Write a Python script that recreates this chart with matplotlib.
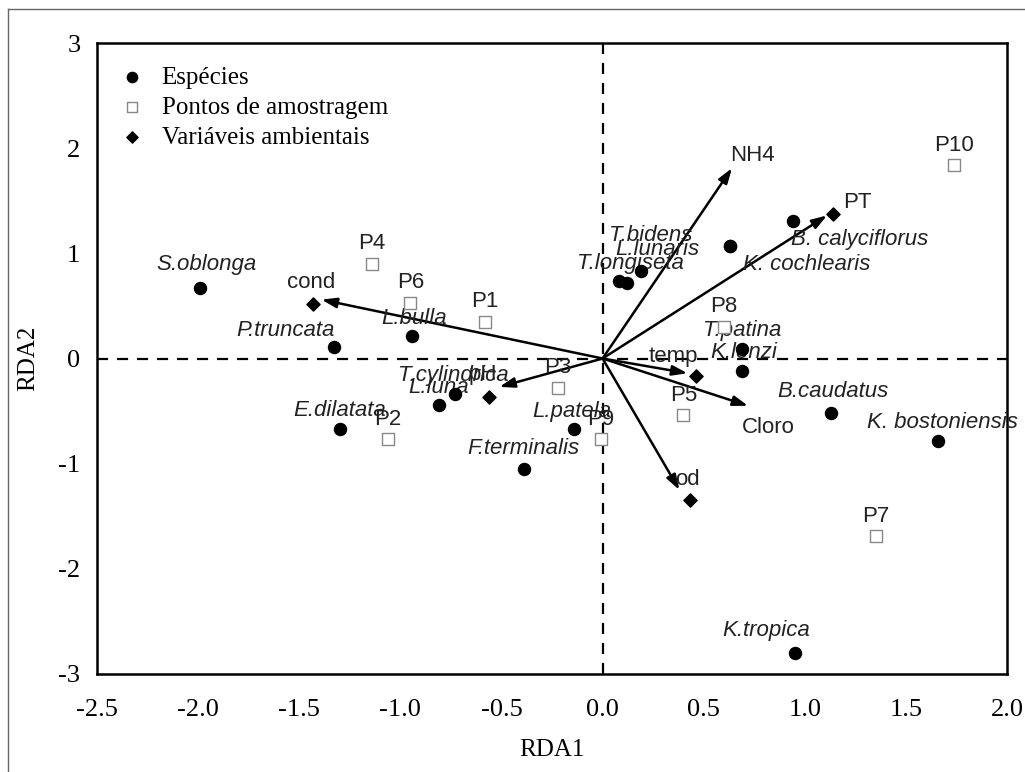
import numpy as np
import matplotlib.pyplot as plt

plt.rcParams['axes.unicode_minus'] = False

# species scores
sp_names = ['S.oblonga', 'P.truncata', 'L.bulla', 'E.dilatata', 'L.luna', 'T.cylindrica',
            'F.terminalis', 'L.patela', 'T.longiseta', 'L.lunaris', 'T.bidens', '',
            'B. calyciflorus', 'K. cochlearis', 'T.patina', 'K.lenzi', 'B.caudatus',
            'K. bostoniensis', 'K.tropica']
sp_x = [-1.99, -1.33, -0.94, -1.30, -0.81, -0.73, -0.39, -0.14, 0.08, 0.12, 0.19, 0.63,
        0.94, 0.63, 0.69, 0.69, 1.13, 1.66, 0.95]
sp_y = [0.67, 0.11, 0.21, -0.67, -0.44, -0.34, -1.05, -0.67, 0.74, 0.72, 0.83, 1.07,
        1.31, 1.07, 0.09, -0.12, -0.52, -0.78, -2.80]
# label offsets (data units)
sp_lx = [0.03, -0.24, 0.01, 0.0, 0.0, -0.01, 0.0, -0.01, 0.06, 0.15, 0.05, 0,
         0.33, 0.38, 0.0, 0.01, 0.01, 0.02, -0.14]
sp_ly = [0.22, 0.16, 0.17, 0.18, 0.16, 0.18, 0.19, 0.17, 0.16, 0.32, 0.34, 0,
         -0.18, -0.18, 0.18, 0.18, 0.21, 0.17, 0.21]

# sampling sites
site_names = ['P1', 'P2', 'P3', 'P4', 'P5', 'P6', 'P7', 'P8', 'P9', 'P10']
site_x = [-0.58, -1.06, -0.22, -1.14, 0.40, -0.95, 1.35, 0.60, -0.01, 1.74]
site_y = [0.35, -0.77, -0.28, 0.90, -0.54, 0.53, -1.69, 0.30, -0.77, 1.84]

# environmental variables
env_names = ['cond', 'pH', 'NH4', 'PT', 'temp', 'Cloro', 'od']
env_x = [-1.39, -0.51, 0.64, 1.11, 0.42, 0.72, 0.38]
env_y = [0.56, -0.27, 1.81, 1.36, -0.14, -0.45, -1.25]
dia_x = [-1.43, -0.56, np.nan, 1.14, 0.46, np.nan, 0.43]
dia_y = [0.52, -0.37, np.nan, 1.37, -0.17, np.nan, -1.35]
env_lx = [-0.05, -0.08, 0.1, 0.15, -0.07, 0.1, 0.04]
env_ly = [0.16, 0.12, 0.12, 0.12, 0.16, -0.21, 0.1]

fig = plt.figure(figsize=(10.25, 7.72), dpi=100)
ax = fig.add_axes([97/1025, 1-674/772, 910/1025, 631/772])

# outer frame lines (left and top)
fig.add_artist(plt.Line2D([8/1025, 8/1025], [0, 1-9/772], transform=fig.transFigure,
                          color='#666666', lw=1.0))
fig.add_artist(plt.Line2D([8/1025, 1], [1-9/772, 1-9/772], transform=fig.transFigure,
                          color='#666666', lw=1.0))

ax.axhline(0, color='black', ls=(0, (5, 4)), lw=1.6, zorder=1)
ax.axvline(0, color='black', ls=(0, (5, 4)), lw=1.6, zorder=1)

for i in range(len(env_names)):
    ax.annotate('', xy=(env_x[i], env_y[i]), xytext=(0, 0),
                arrowprops=dict(arrowstyle='-|>,head_length=0.9,head_width=0.3',
                                color='black', lw=1.8, shrinkA=0, shrinkB=0), zorder=3)
    ax.text(env_x[i] + env_lx[i], env_y[i] + env_ly[i], env_names[i],
            family='Liberation Sans', fontsize=16, ha='center', va='center', color='#222222')

ax.scatter(sp_x, sp_y, s=75, color='black', marker='o', zorder=4, label='Espécies')
ax.scatter(site_x, site_y, s=75, facecolor='white', edgecolor='#888888', marker='s',
           linewidths=1.0, zorder=4, label='Pontos de amostragem')
ax.scatter(dia_x, dia_y, s=45, color='black', marker='D', zorder=4,
           label='Variáveis ambientais')

for i in range(len(sp_names)):
    ax.text(sp_x[i] + sp_lx[i], sp_y[i] + sp_ly[i], sp_names[i], family='Liberation Sans',
            style='italic', fontsize=16, ha='center', va='center', color='#222222')
for i in range(len(site_names)):
    ax.text(site_x[i], site_y[i] + 0.19, site_names[i], family='Liberation Sans',
            fontsize=16, ha='center', va='center', color='#222222')

ax.set_xlim(-2.5, 2.0)
ax.set_ylim(-3, 3)
ax.set_xticks(np.arange(-2.5, 2.01, 0.5))
ax.set_xticklabels(['%.1f' % v for v in np.arange(-2.5, 2.01, 0.5)])
ax.set_yticks(np.arange(-3, 4, 1))
ax.tick_params(length=0, labelsize=19)
ax.tick_params(axis='x', pad=18)
ax.tick_params(axis='y', pad=12)
for lab in ax.get_xticklabels() + ax.get_yticklabels():
    lab.set_family('Liberation Serif')
for sp in ax.spines.values():
    sp.set_linewidth(1.8)
ax.set_xlabel('RDA1', family='Liberation Serif', fontsize=18, labelpad=13)
ax.set_ylabel('RDA2', family='Liberation Serif', fontsize=18, labelpad=14)

leg = ax.legend(loc='upper left', bbox_to_anchor=(-0.006, 0.999), frameon=False,
                prop={'family': 'Liberation Serif', 'size': 18},
                handletextpad=0.5, handlelength=1.4, labelspacing=0.3, markerscale=0.85)

fig.savefig('out.png', dpi=100)
